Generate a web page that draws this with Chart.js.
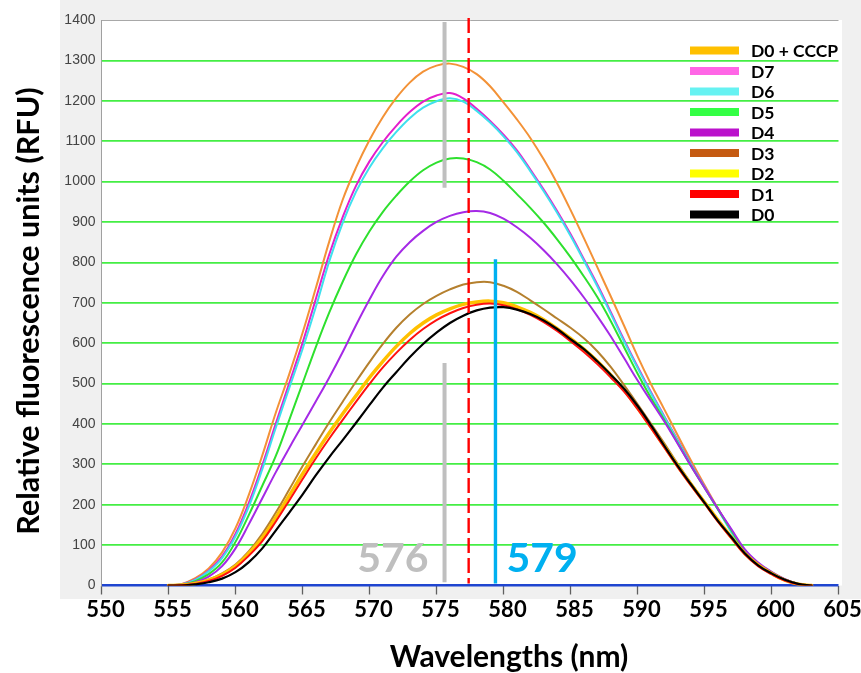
<!DOCTYPE html>
<html><head><meta charset="utf-8">
<script src="https://cdn.jsdelivr.net/npm/chart.js@4.4.1/dist/chart.umd.min.js"></script>
<style>html,body{margin:0;padding:0;background:#fff}</style>
</head><body>
<canvas id="c" width="861" height="673"></canvas>
<script>
// ---- data ----
const wavelengths = [555,556,557,558,559,560,561,562,563,564,565,566,567,568,569,570,571,572,573,574,575,576,577,578,579,580,581,582,583,584,585,586,587,588,589,590,591,592,593,594,595,596,597,598,599,600,601,602,603];
const seriesLabels = ['D0 + CCCP','D7','D6','D5','D4','D3','D2','D1','D0'];
const d0cccp = [0,4,18,42,82,142,225,322,427,522,625,737,852,955,1035,1103,1160,1207,1245,1272,1287,1292,1284,1266,1236,1196,1154,1108,1055,996,930,860,788,716,643,568,499,436,372,309,249,191,136,86,52,32,15,4,0];
const d7 = [0,3,15,37,72,128,205,298,400,500,600,710,820,912,990,1050,1098,1138,1172,1198,1213,1219,1206,1180,1150,1116,1077,1030,980,927,870,808,745,677,608,542,479,419,360,301,245,190,134,83,52,32,15,4,0];
const d6 = [0,3,14,35,68,122,196,288,390,488,585,690,803,898,975,1035,1083,1123,1157,1183,1199,1206,1198,1175,1146,1112,1073,1026,976,923,866,804,741,673,604,539,476,417,358,299,243,188,132,81,51,31,14,4,0];
const d5 = [0,2,11,28,57,108,175,247,320,409,500,591,676,752,820,877,925,965,1000,1028,1047,1057,1057,1048,1030,1002,969,935,898,857,813,765,714,655,590,525,465,410,353,296,242,189,137,86,55,33,15,4,0];
const d4 = [0,2,8,22,48,92,152,216,280,340,398,456,515,578,645,708,766,814,850,878,900,915,924,927,922,908,887,861,830,795,756,713,667,617,563,508,457,406,351,295,242,190,140,90,57,34,16,4,0];
const d3 = [0,1,6,15,30,52,85,128,180,237,295,350,404,455,505,553,598,638,671,697,717,733,745,751,751,742,727,706,684,661,638,612,580,541,496,449,401,352,301,253,208,163,120,80,50,30,13,3,0];
const d2 = [0,1,5,13,27,48,80,118,168,222,276,328,378,425,470,515,555,592,624,650,670,685,696,702,704,700,690,676,658,636,612,585,555,521,484,440,393,345,296,250,206,162,120,80,51,30,13,3,0];
const d1 = [0,1,4,11,24,44,74,110,158,210,263,315,364,410,455,499,540,576,608,635,657,674,687,695,698,694,684,670,652,630,605,578,548,515,480,437,390,342,293,247,203,158,117,77,48,28,12,3,0];
const d0 = [0,0,3,8,17,33,58,92,136,180,225,273,318,360,403,447,490,528,565,598,626,650,668,681,688,689,683,672,656,635,610,585,555,522,487,445,397,346,296,250,205,160,120,80,50,30,14,4,0];
const seriesValues = [d0cccp, d7, d6, d5, d4, d3, d2, d1, d0];
const lineColors   = ['#F39237','#E41ECC','#3FE0EE','#2EE02E','#A52AE6','#B5802E','#FFC000','#FF1010','#000000'];
const lineWidths   = [2, 2, 2, 2, 2, 2, 3.5, 2, 2.2];
const legendColors = ['#FFC000','#FF66E6','#66F2F2','#33FF44','#BB11CC','#C55A11','#FFFF00','#FF0000','#000000'];
const xMin = 550, xMax = 605, xStep = 5;
const yMin = 0, yMax = 1400, yStep = 100;
const grayMarker = 575.6, redMarker = 577.4, blueMarker = 579.4;
const grayLabel = '576', blueLabel = '579';
const xTitle = 'Wavelengths (nm)';
const yTitle = 'Relative fluorescence units (RFU)';

// datasets: lowest-numbered drawn on top (dataset 0 drawn last)
const datasets = [];
for (let i = seriesLabels.length - 1; i >= 0; i--) {
  datasets.push({
    label: seriesLabels[i],
    data: wavelengths.map((w, k) => ({x: w, y: seriesValues[i][k]})),
    borderColor: lineColors[i],
    borderWidth: lineWidths[i],
    pointRadius: 0,
    fill: false,
    tension: 0.4
  });
}

const decor = {
  id: 'decor',
  beforeDraw(chart) {
    const {ctx, chartArea: a} = chart;
    ctx.save();
    ctx.fillStyle = '#ffffff';
    ctx.fillRect(0, 0, chart.width, chart.height);
    ctx.fillStyle = '#F0F0F0';
    ctx.fillRect(60, 0, chart.width - 60, 599);
    ctx.fillStyle = '#ffffff';
    ctx.fillRect(a.left, a.top, 842 - a.left, a.bottom - a.top);
    ctx.restore();
  },
  afterDatasetsDraw(chart) {
    const {ctx, scales: {x, y}} = chart;
    ctx.save();
    const gx = x.getPixelForValue(grayMarker);
    ctx.strokeStyle = '#BFBFBF'; ctx.lineWidth = 4;
    ctx.beginPath();
    ctx.moveTo(gx, y.getPixelForValue(1395)); ctx.lineTo(gx, y.getPixelForValue(985));
    ctx.moveTo(gx, y.getPixelForValue(551)); ctx.lineTo(gx, y.getPixelForValue(8));
    ctx.stroke();
    const rx = x.getPixelForValue(redMarker);
    ctx.strokeStyle = '#FF0000'; ctx.lineWidth = 2.4; ctx.setLineDash([15, 5]);
    ctx.beginPath(); ctx.moveTo(rx, y.getPixelForValue(1405)); ctx.lineTo(rx, y.getPixelForValue(5)); ctx.stroke();
    ctx.setLineDash([]);
    const bx = x.getPixelForValue(blueMarker);
    ctx.strokeStyle = '#00B0F0'; ctx.lineWidth = 3.4;
    ctx.beginPath(); ctx.moveTo(bx, y.getPixelForValue(808)); ctx.lineTo(bx, y.getPixelForValue(5)); ctx.stroke();
    ctx.font = 'bold 41px Lato';
    ctx.textBaseline = 'alphabetic';
    ctx.fillStyle = '#BFBFBF'; ctx.textAlign = 'right';
    ctx.fillText(grayLabel, gx - 16, 572);
    ctx.fillStyle = '#00B0F0'; ctx.textAlign = 'left';
    ctx.fillText(blueLabel, bx + 11, 572);
    ctx.font = 'bold 17.5px Lato';
    ctx.textBaseline = 'middle';
    for (let i = 0; i < seriesLabels.length; i++) {
      const cy = 50.5 + i * 20.5;
      ctx.fillStyle = legendColors[i];
      ctx.fillRect(690, cy - 4, 49, 8);
      ctx.fillStyle = '#000';
      ctx.fillText(seriesLabels[i], 751, cy + 1);
    }
    ctx.restore();
  },
  afterDraw(chart) {
    const {ctx} = chart;
    ctx.save();
    ctx.fillStyle = '#000';
    ctx.textAlign = 'center'; ctx.textBaseline = 'middle';
    ctx.font = 'bold 30px Lato';
    ctx.fillText(xTitle, 509, 657);
    ctx.translate(29, 311); ctx.rotate(-Math.PI / 2);
    ctx.font = 'bold 30.5px Lato';
    ctx.fillText(yTitle, 0, 0);
    ctx.restore();
  }
};

new Chart(document.getElementById('c'), {
  type: 'line',
  data: {datasets},
  plugins: [decor],
  options: {
    responsive: false,
    animation: false,
    devicePixelRatio: 1,
    layout: {padding: {top: 20, right: 22.5, left: 0, bottom: 0}},
    plugins: {legend: {display: false}, tooltip: {enabled: false}},
    elements: {line: {borderJoinStyle: 'round', borderCapStyle: 'round'}},
    scales: {
      x: {
        type: 'linear', min: xMin, max: xMax,
        afterFit(s) { s.height = 87.5; },
        ticks: {stepSize: xStep, color: '#000', font: {family: 'Lato', size: 22, weight: 'bold'}, padding: 2, labelOffset: 4, maxRotation: 0, autoSkip: false, callback: v => String(v)},
        grid: {drawOnChartArea: false, drawTicks: true, tickLength: 9, tickColor: '#606060', tickWidth: 1.3},
        border: {display: false}
      },
      y: {
        min: yMin, max: yMax,
        afterFit(s) { s.width = 101.5; },
        ticks: {stepSize: yStep, color: '#444', font: {family: 'Liberation Sans', size: 14}, padding: 6, callback: v => String(v)},
        grid: {
          drawTicks: false,
          color: c => c.tick.value === 0 ? '#1F45D0' : (c.tick.value === yMax ? '#A8A8A8' : '#44EE44'),
          lineWidth: c => c.tick.value === 0 ? 2.5 : (c.tick.value === yMax ? 1 : 1.7)
        },
        border: {color: '#A0A0A0', width: 1}
      }
    }
  }
});
</script>
</body></html>
